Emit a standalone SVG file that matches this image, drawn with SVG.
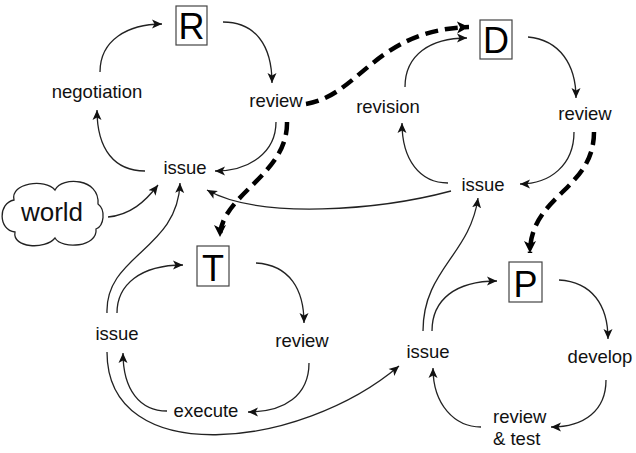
<svg xmlns="http://www.w3.org/2000/svg" width="636" height="453" viewBox="0 0 636 453">
<style>
.lbl{font-family:"Liberation Sans",Arial,sans-serif;font-size:18.5px;fill:#111;text-anchor:middle}
.big{font-family:"Liberation Sans",Arial,sans-serif;font-size:36px;fill:#000;text-anchor:middle}
.box{fill:#fff;stroke:#444;stroke-width:1.2}
.thin{fill:none;stroke:#222;stroke-width:1.3;marker-end:url(#ah)}
.plain{fill:none;stroke:#222;stroke-width:1.3}
.dash{fill:none;stroke:#000;stroke-width:4.5;stroke-dasharray:13 7;marker-end:url(#ahb)}
</style>
<defs>
<marker id="ah" markerUnits="userSpaceOnUse" markerWidth="12" markerHeight="10" refX="10" refY="5" orient="auto">
<path d="M0,0.5 L10,5 L0,9.5 L2.5,5 Z" fill="#111"/>
</marker>
<marker id="ahb" markerUnits="userSpaceOnUse" markerWidth="14" markerHeight="14" refX="12" refY="6" orient="auto">
<path d="M0,0 L12,6 L0,12 L3,6 Z" fill="#000"/>
</marker>
</defs>
<rect width="636" height="453" fill="#fff"/>
<g id="connectors">
<path class="thin" d="M100,72 C100,40 128,24 162,24"/>
<path class="thin" d="M223,22 C255,22 272,45 272,83"/>
<path class="thin" d="M276,122 C276,152 250,171 215,171"/>
<path class="thin" d="M145,171 C115,171 97,150 97,110"/>
<path class="thin" d="M108,217 C130,215 145,202 158,185"/>
<path class="thin" d="M107,313 C105,255 178,250 180,183"/>
<path class="thin" d="M451,191 C380,210 260,220 207,190"/>
<path class="thin" d="M405,87 C405,55 430,38 467,38"/>
<path class="thin" d="M528,37 C560,40 576,65 576,98"/>
<path class="thin" d="M574,132 C574,165 550,184 520,184"/>
<path class="thin" d="M448,183 C420,183 402,160 402,123"/>
<path class="thin" d="M423,331 C423,270 470,255 478,198"/>
<path class="thin" d="M117,313 C117,285 140,265 183,265"/>
<path class="thin" d="M256,263 C290,265 304,290 304,323"/>
<path class="thin" d="M309,363 C309,395 285,412 248,412"/>
<path class="thin" d="M167,411 C140,411 123,390 123,353"/>
<path class="thin" d="M107,352 C107,470 300,450 399,366"/>
<path class="thin" d="M432,331 C432,300 455,281 497,281"/>
<path class="thin" d="M559,280 C592,282 608,305 608,339"/>
<path class="thin" d="M606,380 C606,410 585,427 551,427"/>
<path class="thin" d="M481,427 C455,427 433,405 433,368"/>
<path class="dash" d="M306,104 C360,95 375,30 469,27"/>
<path class="dash" d="M287,122 C288,175 220,195 220,237"/>
<path class="dash" d="M594,132 C594,190 530,195 530,253"/>
</g>
<g id="world">
<path d="M14,200 C10,183 45,178 55,190 C62,176 100,178 98,204 C106,210 104,226 96,229 C98,247 62,250 55,238 C45,250 12,248 15,232 C-2,230 -2,203 14,200 Z" fill="#fff" stroke="#222" stroke-width="1.3"/>
<text x="52" y="221" class="lbl" style="font-size:26px">world</text>
</g>
<g id="R"><rect class="box" x="176" y="6" width="31" height="39"/><text class="big" x="191.5" y="39">R</text></g>
<g id="R-negotiation"><text class="lbl" x="97" y="98">negotiation</text></g>
<g id="R-review"><text class="lbl" x="276" y="107">review</text></g>
<g id="R-issue"><text class="lbl" x="185" y="174">issue</text></g>
<g id="D"><rect class="box" x="480" y="20" width="32" height="39"/><text class="big" x="496" y="53">D</text></g>
<g id="D-revision"><text class="lbl" x="388" y="113">revision</text></g>
<g id="D-review"><text class="lbl" x="585" y="120">review</text></g>
<g id="D-issue"><text class="lbl" x="483" y="191">issue</text></g>
<g id="T"><rect class="box" x="197" y="246" width="32" height="40"/><text class="big" x="213" y="281">T</text></g>
<g id="T-issue"><text class="lbl" x="117" y="340">issue</text></g>
<g id="T-review"><text class="lbl" x="302" y="347">review</text></g>
<g id="T-execute"><text class="lbl" x="206" y="417">execute</text></g>
<g id="P"><rect class="box" x="509" y="262" width="33" height="40"/><text class="big" x="525.5" y="297">P</text></g>
<g id="P-issue"><text class="lbl" x="428" y="358">issue</text></g>
<g id="P-develop"><text class="lbl" x="600" y="363">develop</text></g>
<g id="P-reviewtest"><text class="lbl" x="493" y="423" style="text-anchor:start">review</text><text class="lbl" x="493" y="445" style="text-anchor:start">&amp; test</text></g>
</svg>
